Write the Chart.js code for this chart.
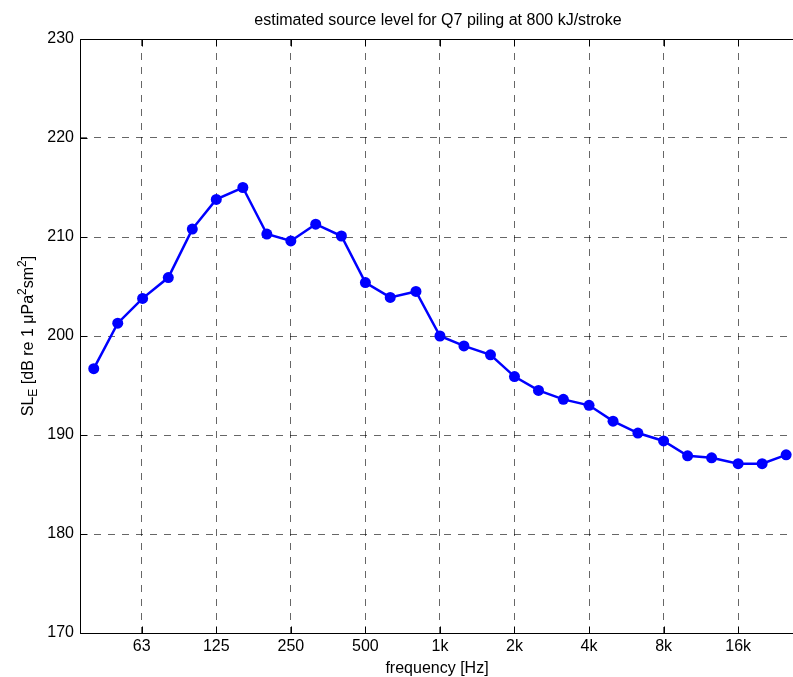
<!DOCTYPE html>
<html>
<head>
<meta charset="utf-8">
<script src="https://cdn.jsdelivr.net/npm/chart.js@4.4.1/dist/chart.umd.min.js"></script>
<style>
  html, body { margin: 0; padding: 0; background: #fff; overflow: hidden; }
  #wrap { width: 793px; height: 677px; overflow: hidden; }
  #myChart { display: block; }
</style>
</head>
<body>
<div id="wrap"><canvas id="myChart" width="840" height="677"></canvas></div>
<script>
// third-octave band centres (Hz) and estimated source level (dB)
const freqs = [40, 50, 63, 80, 100, 125, 160, 200, 250, 315, 400, 500, 630, 800,
  1000, 1250, 1600, 2000, 2500, 3150, 4000, 5000, 6300, 8000, 10000, 12500, 16000, 20000, 25000];
const levels = [196.7, 201.3, 203.8, 205.9, 210.8, 213.8, 215.0, 210.3, 209.6, 211.3, 210.1, 205.4, 203.9, 204.5,
  200.0, 199.0, 198.1, 195.9, 194.5, 193.6, 193.0, 191.4, 190.2, 189.4, 187.9, 187.7, 187.1, 187.1, 188.0];
const xTickValues = [62.5, 125, 250, 500, 1000, 2000, 4000, 8000, 16000];
const xTickLabels = ['63', '125', '250', '500', '1k', '2k', '4k', '8k', '16k'];
const yTickValues = [170, 180, 190, 200, 210, 220, 230];

const FONT = '"Liberation Sans", Arial, Helvetica, sans-serif';
const gridColor = 'rgba(0,0,0,0.6)';

// box, inward ticks, title and axis labels drawn MATLAB-style
const matlabBox = {
  id: 'matlabBox',
  afterDraw(chart) {
    const ctx = chart.ctx;
    const a = chart.chartArea;
    const xs = chart.scales.x, ys = chart.scales.y;
    const L = Math.round(a.left) + 0.5, R = Math.round(a.right) + 0.5;
    const T = Math.round(a.top) + 0.5, B = Math.round(a.bottom) + 0.5;
    ctx.save();
    ctx.strokeStyle = '#000';
    ctx.lineWidth = 1;
    ctx.beginPath();
    ctx.moveTo(R, T); ctx.lineTo(L, T); ctx.lineTo(L, B); ctx.lineTo(R, B); ctx.lineTo(R, T);
    xTickValues.forEach(v => {
      const px = Math.round(xs.getPixelForValue(v)) + 0.5;
      ctx.moveTo(px, B); ctx.lineTo(px, B - 7);
      ctx.moveTo(px, T); ctx.lineTo(px, T + 7);
    });
    yTickValues.forEach(v => {
      const py = Math.round(ys.getPixelForValue(v)) + 0.5;
      ctx.moveTo(L, py); ctx.lineTo(L + 7, py);
    });
    ctx.stroke();

    ctx.fillStyle = '#000';
    ctx.font = '16px ' + FONT;
    ctx.textAlign = 'center';
    ctx.textBaseline = 'alphabetic';
    ctx.fillText('estimated source level for Q7 piling at 800 kJ/stroke', 438, 25);
    ctx.fillText('frequency [Hz]', 437, 673);

    // y label with sub/superscripts
    const parts = [
      {t: 'SL', size: 16, dy: 0},
      {t: 'E', size: 12, dy: 4},
      {t: ' [dB re 1 \u03bcPa', size: 16, dy: 0},
      {t: '2', size: 12, dy: -7},
      {t: 'sm', size: 16, dy: 0},
      {t: '2', size: 12, dy: -7},
      {t: ']', size: 16, dy: 0}
    ];
    let total = 0;
    parts.forEach(p => { ctx.font = p.size + 'px ' + FONT; p.w = ctx.measureText(p.t).width; total += p.w; });
    ctx.translate(33, (a.top + a.bottom) / 2);
    ctx.rotate(-Math.PI / 2);
    ctx.textAlign = 'left';
    let x = -total / 2;
    parts.forEach(p => {
      ctx.font = p.size + 'px ' + FONT;
      ctx.fillText(p.t, x, p.dy);
      x += p.w;
    });
    ctx.restore();
  }
};

let ctx = document.getElementById('myChart').getContext('2d');
let myChart = new Chart(ctx, {
  type: 'line',
  data: {
    datasets: [{
      data: freqs.map((f, i) => ({x: f, y: levels[i]})),
      borderColor: '#0000ff',
      backgroundColor: '#0000ff',
      borderWidth: 2.5,
      pointRadius: 5.5,
      pointBorderWidth: 0,
      pointBackgroundColor: '#0000ff',
      tension: 0
    }]
  },
  options: {
    responsive: false,
    animation: false,
    devicePixelRatio: 1,
    layout: { padding: { top: 39, right: 29, left: 0, bottom: 0 } },
    plugins: { legend: { display: false }, title: { display: false }, tooltip: { enabled: false } },
    scales: {
      x: {
        type: 'logarithmic',
        min: 35.2,
        max: 31500,
        afterFit: s => { s.height = 44; },
        afterBuildTicks: s => { s.ticks = xTickValues.map(v => ({value: v})); },
        ticks: {
          autoSkip: false,
          maxRotation: 0,
          padding: 4,
          color: '#000',
          font: { family: FONT, size: 16 },
          callback: (v, i) => xTickLabels[i]
        },
        grid: { color: gridColor, lineWidth: 1, drawTicks: false },
        border: { display: false, dash: [7, 7] }
      },
      y: {
        min: 170,
        max: 230,
        afterFit: s => { s.width = 80; },
        afterBuildTicks: s => { s.ticks = yTickValues.map(v => ({value: v})); },
        ticks: {
          padding: 6,
          color: '#000',
          font: { family: FONT, size: 16 }
        },
        grid: { color: gridColor, lineWidth: 1, drawTicks: false },
        border: { display: false, dash: [7, 7] }
      }
    }
  },
  plugins: [matlabBox]
});
</script>
</body>
</html>
